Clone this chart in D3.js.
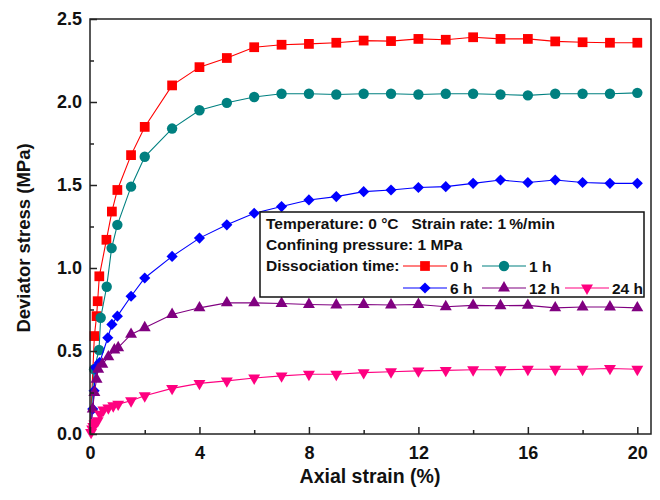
<!DOCTYPE html>
<html>
<head>
<meta charset="utf-8">
<script src="https://cdn.jsdelivr.net/npm/d3@7"></script>
<style>
  body { margin: 0; background: #fff; }
  text { font-family: "Liberation Sans", Arial, sans-serif; font-weight: bold; white-space: pre; }
</style>
</head>
<body>
<div id="chart"></div>
<script>
// strain (%) and deviator stress (MPa)
const strain0 = [0, 0.16, 0.24, 0.28, 0.34, 0.6, 0.8, 1, 1.5, 2, 3, 4, 5, 6, 7, 8, 9, 10, 11, 12, 13, 14, 15, 16, 17, 18, 19, 20];
const stress0 = [0, 0.59, 0.71, 0.8, 0.95, 1.17, 1.34, 1.47, 1.68, 1.85, 2.1, 2.21, 2.265, 2.33, 2.345, 2.35, 2.357, 2.37, 2.367, 2.38, 2.375, 2.39, 2.38, 2.38, 2.365, 2.36, 2.357, 2.357];

const strain1 = [0, 0.15, 0.33, 0.39, 0.61, 0.79, 1, 1.5, 2, 3, 4, 5, 6, 7, 8, 9, 10, 11, 12, 13, 14, 15, 16, 17, 18, 19, 20];
const stress1 = [0, 0.39, 0.506, 0.7, 0.887, 1.12, 1.26, 1.49, 1.67, 1.84, 1.95, 1.995, 2.03, 2.05, 2.05, 2.045, 2.05, 2.05, 2.045, 2.05, 2.05, 2.045, 2.04, 2.05, 2.05, 2.05, 2.055];

const strain6 = [0, 0.1, 0.15, 0.2, 0.35, 0.65, 0.8, 1, 1.5, 2, 3, 4, 5, 6, 7, 8, 9, 10, 11, 12, 13, 14, 15, 16, 17, 18, 19, 20];
const stress6 = [0, 0.15, 0.26, 0.4, 0.43, 0.58, 0.66, 0.71, 0.83, 0.94, 1.07, 1.18, 1.26, 1.33, 1.37, 1.41, 1.43, 1.46, 1.47, 1.485, 1.49, 1.51, 1.53, 1.515, 1.53, 1.515, 1.51, 1.51];

const strain12 = [0, 0.1, 0.16, 0.24, 0.3, 0.45, 0.67, 0.89, 1.03, 1.5, 2, 3, 4, 5, 6, 7, 8, 9, 10, 11, 12, 13, 14, 15, 16, 17, 18, 19, 20];
const stress12 = [0, 0.15, 0.25, 0.33, 0.39, 0.42, 0.465, 0.506, 0.52, 0.6, 0.64, 0.72, 0.76, 0.79, 0.79, 0.786, 0.78, 0.777, 0.78, 0.777, 0.78, 0.767, 0.775, 0.773, 0.775, 0.76, 0.765, 0.765, 0.76];

const strain24 = [0, 0.04, 0.08, 0.12, 0.16, 0.2, 0.28, 0.37, 0.49, 0.67, 0.85, 1.03, 1.5, 2, 3, 4, 5, 6, 7, 8, 9, 10, 11, 12, 13, 14, 15, 16, 17, 18, 19, 20];
const stress24 = [0, 0.01, 0.03, 0.045, 0.06, 0.07, 0.08, 0.12, 0.145, 0.157, 0.17, 0.18, 0.2, 0.23, 0.275, 0.305, 0.32, 0.337, 0.35, 0.36, 0.36, 0.37, 0.375, 0.38, 0.383, 0.387, 0.387, 0.39, 0.39, 0.39, 0.395, 0.39];

const seriesNames = ["0 h", "1 h", "6 h", "12 h", "24 h"];
const xTicks = [0, 4, 8, 12, 16, 20];
const xMinor = [2, 6, 10, 14, 18];
const yTicks = [0, 0.5, 1.0, 1.5, 2.0, 2.5];
const yMinor = [0.25, 0.75, 1.25, 1.75, 2.25];

const series = [
  { name: seriesNames[0], xs: strain0, ys: stress0, color: "#ff0000", symbol: d3.symbolSquare, size: 95, rot: 0 },
  { name: seriesNames[1], xs: strain1, ys: stress1, color: "#008080", symbol: d3.symbolCircle, size: 85, rot: 0 },
  { name: seriesNames[2], xs: strain6, ys: stress6, color: "#0000ff", symbol: d3.symbolSquare, size: 62, rot: 45 },
  { name: seriesNames[3], xs: strain12, ys: stress12, color: "#800080", symbol: d3.symbolTriangle, size: 62, rot: 0 },
  { name: seriesNames[4], xs: strain24, ys: stress24, color: "#ff0080", symbol: d3.symbolTriangle, size: 62, rot: 180 }
];

const width = 660, height = 500;
const plotLeft = 90, plotRight = 651, plotTop = 19, plotBottom = 434;

const svg = d3.select("#chart").append("svg")
  .attr("width", width).attr("height", height);

const x = d3.scaleLinear().domain([0, 20.5]).range([plotLeft, plotRight]);
const y = d3.scaleLinear().domain([0, 2.5]).range([plotBottom, plotTop]);

// lines and markers
const line = d3.line().x(d => x(d[0])).y(d => y(d[1]));

series.forEach(s => {
  const pts = s.xs.map((v, i) => [v, s.ys[i]]);
  svg.append("path")
    .datum(pts)
    .attr("d", line)
    .attr("fill", "none")
    .attr("stroke", s.color)
    .attr("stroke-width", 1.1);
  svg.append("g").selectAll("path")
    .data(pts.slice(1))
    .join("path")
    .attr("d", d3.symbol(s.symbol, s.size))
    .attr("transform", d => `translate(${x(d[0])},${y(d[1])}) rotate(${s.rot})`)
    .attr("fill", s.color);
});

// frame
svg.append("rect")
  .attr("x", plotLeft).attr("y", plotTop)
  .attr("width", plotRight - plotLeft).attr("height", plotBottom - plotTop)
  .attr("fill", "none").attr("stroke", "#222").attr("stroke-width", 1.5);

// axes, ticks pointing inward
svg.append("g")
  .attr("transform", `translate(0,${plotBottom})`)
  .call(d3.axisBottom(x).tickValues(xTicks).tickSize(-7).tickPadding(12).tickFormat(d3.format("d")));
svg.append("g")
  .attr("transform", `translate(0,${plotBottom})`)
  .call(d3.axisBottom(x).tickValues(xMinor).tickSize(-4).tickFormat(""));

svg.append("g")
  .attr("transform", `translate(${plotLeft},0)`)
  .call(d3.axisLeft(y).tickValues(yTicks).tickSize(-7).tickPadding(8).tickFormat(d3.format(".1f")));
svg.append("g")
  .attr("transform", `translate(${plotLeft},0)`)
  .call(d3.axisLeft(y).tickValues(yMinor).tickSize(-4).tickFormat(""));

svg.selectAll(".domain").remove();
svg.selectAll(".tick line").attr("stroke", "#222").attr("stroke-width", 1.5);
svg.selectAll(".tick text")
  .attr("fill", "#111")
  .style("font-size", "18px")
  .style("font-family", "'Liberation Sans', Arial, sans-serif")
  .style("font-weight", "bold");

// axis titles
svg.append("text")
  .attr("x", 370).attr("y", 483)
  .attr("text-anchor", "middle")
  .style("font-size", "19.5px")
  .attr("fill", "#111")
  .text("Axial strain (%)");

svg.append("text")
  .attr("transform", "translate(30,238) rotate(-90)")
  .attr("text-anchor", "middle")
  .style("font-size", "18.5px")
  .attr("fill", "#111")
  .text("Deviator stress (MPa)");

// legend box
const lg = svg.append("g");
lg.append("rect")
  .attr("x", 260).attr("y", 212)
  .attr("width", 384).attr("height", 85)
  .attr("fill", "#fff").attr("stroke", "#111").attr("stroke-width", 1.5);

const legendFont = "15.5px";
lg.append("text").attr("x", 266).attr("y", 229).style("font-size", legendFont).attr("fill", "#111")
  .text("Temperature: 0 °C   Strain rate: 1\u2009%/min");
lg.append("text").attr("x", 266).attr("y", 250).style("font-size", legendFont).attr("fill", "#111")
  .text("Confining pressure: 1 MPa");
lg.append("text").attr("x", 266).attr("y", 271).style("font-size", legendFont).attr("fill", "#111")
  .text("Dissociation time:");

const legendPos = [
  [403, 266], [482, 266],
  [403, 288], [482, 288], [565, 288]
];

series.forEach((s, i) => {
  const [lx, ly] = legendPos[i];
  lg.append("line")
    .attr("x1", lx).attr("x2", lx + 44)
    .attr("y1", ly).attr("y2", ly)
    .attr("stroke", s.color).attr("stroke-width", 1.2);
  lg.append("path")
    .attr("d", d3.symbol(s.symbol, s.size)())
    .attr("transform", `translate(${lx + 22},${ly}) rotate(${s.rot})`)
    .attr("fill", s.color);
  lg.append("text")
    .attr("x", lx + 47).attr("y", ly + 5.5)
    .style("font-size", legendFont)
    .attr("fill", "#111")
    .text(s.name);
});
</script>
</body>
</html>
